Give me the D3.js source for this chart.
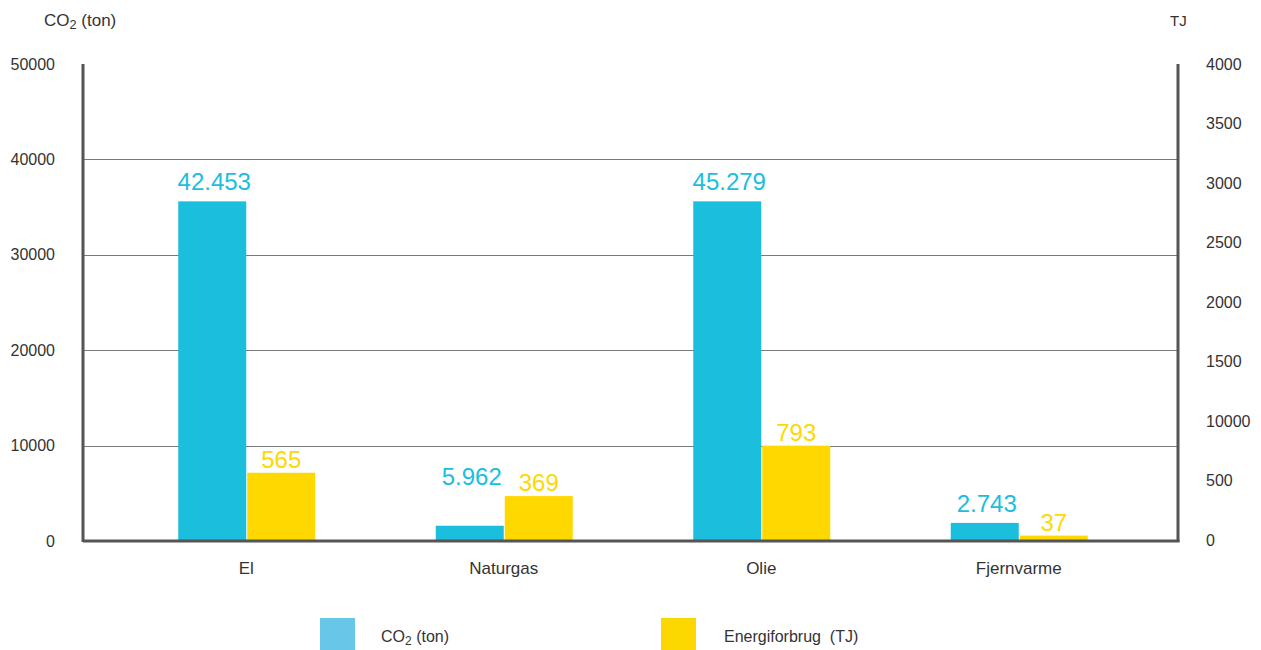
<!DOCTYPE html>
<html>
<head>
<meta charset="utf-8">
<script src="https://cdn.jsdelivr.net/npm/d3@7"></script>
<style>
  body { margin: 0; background: #fff; }
  text { font-family: "Liberation Sans", Arial, sans-serif; fill: #333; }
  .tick line { display: none; }
  .domain { display: none; }
</style>
</head>
<body>
<script>
// data
var categories = ["El", "Naturgas", "Olie", "Fjernvarme"];
var co2 = [35600, 1600, 35600, 1900];             // bar heights as drawn (left axis)
var co2Labels = ["42.453", "5.962", "45.279", "2.743"];
var energy = [565, 369, 793, 37];                  // TJ (right axis)
var energyLabels = ["565", "369", "793", "37"];
var leftTicks = [0, 10000, 20000, 30000, 40000, 50000];
var rightTicks = [0, 500, 1000, 1500, 2000, 2500, 3000, 3500, 4000];
var rightTickLabels = ["0", "500", "10000", "1500", "2000", "2500", "3000", "3500", "4000"];

const w = 1261,
      h = 650,
      padLeft = 83,
      padRight = 1178,
      padTop = 64,
      base = 541,
      barW = 68;

const cyan = "#1bbedd",
      yellow = "#ffd800";

const svg = d3.select("body")
              .append("svg")
              .attr("width", w)
              .attr("height", h);

const x = d3.scalePoint()
            .domain(categories)
            .range([117.5, 1147.5])
            .padding(0.5);

const yLeft = d3.scaleLinear()
                .domain([0, 50000])
                .range([base, padTop]);

const yRight = d3.scaleLinear()
                 .domain([0, 4000])
                 .range([base - 1, padTop]);

// gridlines
svg.append("g")
   .selectAll("line")
   .data(leftTicks.filter(d => d > 0 && d < 50000))
   .enter()
   .append("line")
   .attr("x1", padLeft)
   .attr("x2", padRight)
   .attr("y1", d => Math.round(yLeft(d)) + 0.5)
   .attr("y2", d => Math.round(yLeft(d)) + 0.5)
   .attr("stroke", "#7a7a7a")
   .attr("stroke-width", 1);

// left axis
svg.append("g")
   .attr("transform", "translate(" + padLeft + ",0)")
   .call(d3.axisLeft(yLeft).tickValues(leftTicks).tickSize(0).tickPadding(28).tickFormat(d3.format("d")))
   .selectAll("text")
   .attr("font-size", 16)
   .attr("fill", "#333")
   .style("font-family", "Liberation Sans, Arial, sans-serif");

// right axis
svg.append("g")
   .attr("transform", "translate(" + padRight + ",0)")
   .call(d3.axisRight(yRight).tickValues(rightTicks).tickSize(0).tickPadding(28)
           .tickFormat((d, i) => rightTickLabels[i]))
   .selectAll("text")
   .attr("font-size", 16)
   .attr("fill", "#333")
   .style("font-family", "Liberation Sans, Arial, sans-serif");

// bars
var groups = svg.append("g")
                .selectAll("g")
                .data(categories)
                .enter()
                .append("g");

groups.append("rect")
      .attr("x", d => x(d) - barW)
      .attr("y", (d, i) => yLeft(co2[i]))
      .attr("width", barW)
      .attr("height", (d, i) => base - yLeft(co2[i]))
      .attr("fill", cyan);

groups.append("rect")
      .attr("x", d => x(d) + 1)
      .attr("y", (d, i) => yRight(energy[i]))
      .attr("width", barW)
      .attr("height", (d, i) => base - yRight(energy[i]))
      .attr("fill", yellow);

// value labels
groups.append("text")
      .text((d, i) => co2Labels[i])
      .attr("x", d => x(d) - barW / 2 + 2)
      .attr("y", (d, i) => Math.min(yLeft(co2[i]), yRight(energy[i])) - 11)
      .attr("text-anchor", "middle")
      .attr("font-size", 24)
      .style("fill", cyan);

groups.append("text")
      .text((d, i) => energyLabels[i])
      .attr("x", d => x(d) + barW / 2 + 1)
      .attr("y", (d, i) => yRight(energy[i]) - 5)
      .attr("text-anchor", "middle")
      .attr("font-size", 24)
      .style("fill", yellow);

// axis lines
svg.append("line")
   .attr("x1", padLeft).attr("x2", padLeft)
   .attr("y1", padTop).attr("y2", base + 1)
   .attr("stroke", "#555").attr("stroke-width", 3);

svg.append("line")
   .attr("x1", padRight).attr("x2", padRight)
   .attr("y1", padTop).attr("y2", base + 1)
   .attr("stroke", "#555").attr("stroke-width", 3);

svg.append("line")
   .attr("x1", padLeft).attr("x2", padRight + 1.5)
   .attr("y1", base).attr("y2", base)
   .attr("stroke", "#555").attr("stroke-width", 3);

// category labels
svg.append("g")
   .selectAll("text")
   .data(categories)
   .enter()
   .append("text")
   .text(d => d)
   .attr("x", d => x(d))
   .attr("y", 574)
   .attr("text-anchor", "middle")
   .attr("font-size", 17);

// axis titles
function co2Text(sel, size) {
    sel.append("tspan").text("CO");
    sel.append("tspan").text("2").attr("font-size", size * 0.75).attr("dy", 3);
    sel.append("tspan").text(" (ton)").attr("dy", -3);
}

var t1 = svg.append("text")
            .attr("x", 44)
            .attr("y", 26)
            .attr("font-size", 17);
co2Text(t1, 17);

svg.append("text")
   .text("TJ")
   .attr("x", 1170)
   .attr("y", 26)
   .attr("font-size", 15);

// legend
var legend = svg.append("g");

legend.append("rect")
      .attr("x", 320).attr("y", 618)
      .attr("width", 35).attr("height", 35)
      .attr("fill", "#68c6e8");

legend.append("rect")
      .attr("x", 661).attr("y", 618)
      .attr("width", 35).attr("height", 35)
      .attr("fill", "#fcd800");

var t2 = legend.append("text")
               .attr("x", 381)
               .attr("y", 642)
               .attr("font-size", 16);
co2Text(t2, 16);

legend.append("text")
      .text("Energiforbrug  (TJ)")
      .attr("x", 724)
      .attr("y", 642)
      .attr("font-size", 16)
      .style("white-space", "pre");
</script>
</body>
</html>
